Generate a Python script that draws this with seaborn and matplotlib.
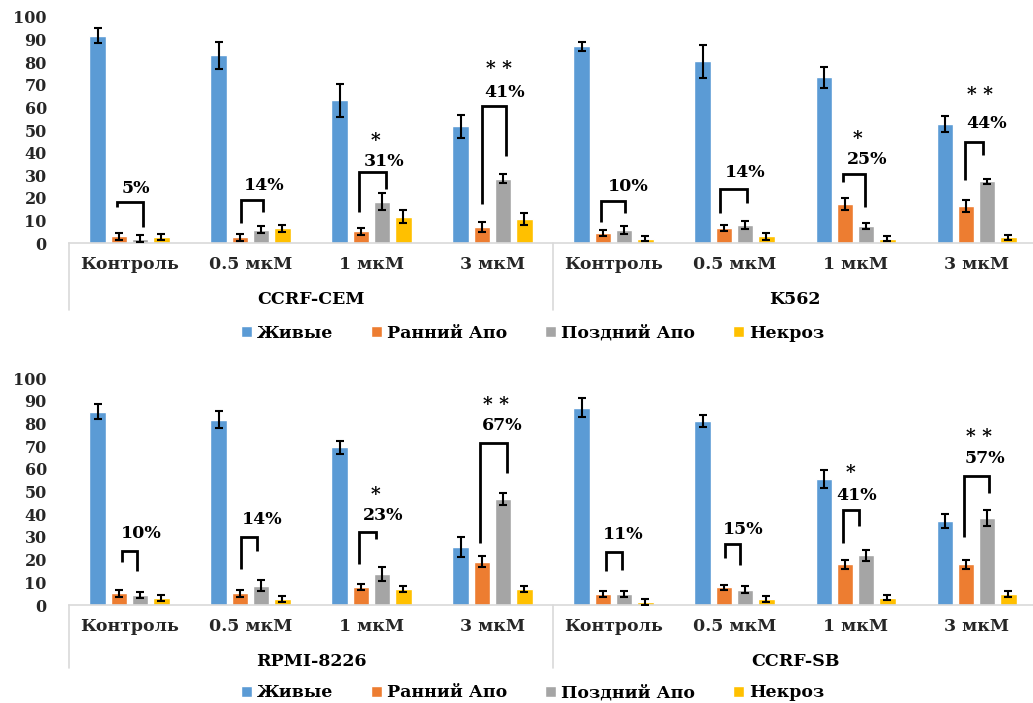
import matplotlib
matplotlib.use("Agg")
import matplotlib.pyplot as plt
import matplotlib.transforms as mtransforms
from matplotlib.lines import Line2D
import pandas as pd
import seaborn as sns

# ---------------------------------------------------------------- data
doses = ["Контроль", "0.5 мкМ", "1 мкМ", "3 мкМ"]
statuses = ["Живые", "Ранний Апо", "Поздний Апо", "Некроз"]
colors = ["#5B9BD5", "#ED7D31", "#A5A5A5", "#FFC000"]

lines_top = ["CCRF-CEM", "K562"]
lines_bottom = ["RPMI-8226", "CCRF-SB"]

# mean share of cells (%) per dose, and its error
cem_live = [91.6, 83.0, 63.1, 51.6]
cem_live_err = [3.3, 5.9, 7.4, 5.2]
cem_early = [3.1, 2.7, 5.3, 7.1]
cem_early_err = [1.5, 1.5, 1.5, 2.3]
cem_late = [2.0, 6.0, 18.4, 28.6]
cem_late_err = [1.5, 1.5, 3.6, 1.8]
cem_necro = [2.8, 6.6, 11.8, 10.9]
cem_necro_err = [1.3, 1.5, 3.0, 2.6]

k562_live = [86.9, 80.3, 73.2, 52.8]
k562_live_err = [2.1, 7.4, 4.6, 3.5]
k562_early = [4.4, 6.8, 17.2, 16.5]
k562_early_err = [1.3, 1.5, 2.6, 2.6]
k562_late = [5.9, 7.9, 7.6, 27.4]
k562_late_err = [1.8, 1.8, 1.3, 1.2]
k562_necro = [2.1, 3.1, 2.1, 2.6]
k562_necro_err = [1.3, 1.5, 1.3, 1.2]

rpmi_live = [85.3, 81.8, 69.6, 25.7]
rpmi_live_err = [3.2, 3.7, 2.9, 4.4]
rpmi_early = [5.1, 5.1, 7.9, 19.1]
rpmi_early_err = [1.5, 1.5, 1.3, 2.4]
rpmi_late = [4.6, 8.5, 13.7, 46.8]
rpmi_late_err = [1.3, 2.4, 3.2, 2.6]
rpmi_necro = [3.1, 2.8, 7.1, 7.1]
rpmi_necro_err = [1.3, 1.3, 1.3, 1.3]

sb_live = [87.1, 81.2, 55.6, 37.1]
sb_live_err = [4.3, 2.6, 3.9, 3.2]
sb_early = [4.9, 7.8, 17.9, 17.9]
sb_early_err = [1.3, 1.2, 2.1, 2.1]
sb_late = [4.9, 6.8, 21.9, 38.4]
sb_late_err = [1.3, 1.5, 2.3, 3.4]
sb_necro = [1.3, 2.5, 3.2, 4.9]
sb_necro_err = [1.5, 1.3, 1.2, 1.3]

# apoptosis totals printed over the brackets, and significance marks
pct_labels_top = ["5%", "14%", "31%", "41%", "10%", "14%", "25%", "44%"]
pct_labels_bottom = ["10%", "14%", "23%", "67%", "11%", "15%", "41%", "57%"]
stars_top = ["", "", "*", "* *", "", "", "*", "* *"]
stars_bottom = ["", "", "*", "* *", "", "", "*", "* *"]

means = {
    "CCRF-CEM": [cem_live, cem_early, cem_late, cem_necro],
    "K562": [k562_live, k562_early, k562_late, k562_necro],
    "RPMI-8226": [rpmi_live, rpmi_early, rpmi_late, rpmi_necro],
    "CCRF-SB": [sb_live, sb_early, sb_late, sb_necro],
}
errors = {
    "CCRF-CEM": [cem_live_err, cem_early_err, cem_late_err, cem_necro_err],
    "K562": [k562_live_err, k562_early_err, k562_late_err, k562_necro_err],
    "RPMI-8226": [rpmi_live_err, rpmi_early_err, rpmi_late_err, rpmi_necro_err],
    "CCRF-SB": [sb_live_err, sb_early_err, sb_late_err, sb_necro_err],
}

# bracket geometry: left/right leg offset from the category centre,
# top, left-leg bottom, right-leg bottom, label x-offset, label y,
# star x-offset, star y
brackets_top = [
    (-0.100, 0.110, 18.3, 16.1, 7.3, 0.054, 24.2, 0.0, 0.0),
    (-0.075, 0.105, 19.3, 8.8, 13.7, 0.110, 25.5, 0.0, 0.0),
    (-0.107, 0.120, 31.4, 13.7, 24.0, 0.100, 36.1, 0.030, 44.7),
    (-0.084, 0.110, 60.5, 17.3, 38.6, 0.100, 66.5, 0.054, 76.3),
    (-0.103, 0.095, 18.7, 9.6, 13.2, 0.120, 25.0, 0.0, 0.0),
    (-0.120, 0.100, 23.8, 13.2, 17.6, 0.087, 31.2, 0.0, 0.0),
    (-0.100, 0.078, 30.6, 27.2, 16.2, 0.095, 36.8, 0.020, 45.6),
    (-0.095, 0.054, 44.9, 27.9, 39.0, 0.087, 52.9, 0.030, 65.0),
]
brackets_bottom = [
    (-0.064, 0.064, 24.0, 18.8, 15.1, 0.100, 31.6, 0.0, 0.0),
    (-0.075, 0.052, 30.1, 15.7, 24.0, 0.095, 37.9, 0.0, 0.0),
    (-0.107, 0.038, 32.1, 17.9, 29.0, 0.095, 39.4, 0.030, 47.8),
    (-0.103, 0.117, 71.3, 27.5, 58.4, 0.080, 79.0, 0.025, 87.5),
    (-0.062, 0.070, 23.5, 15.1, 15.4, 0.083, 31.3, 0.0, 0.0),
    (-0.079, 0.045, 26.8, 20.6, 17.6, 0.074, 33.1, 0.0, 0.0),
    (-0.103, 0.029, 41.9, 27.5, 34.9, 0.012, 48.2, -0.045, 57.4),
    (-0.103, 0.106, 57.1, 30.1, 49.3, 0.070, 64.4, 0.017, 73.5),
]

# ---------------------------------------------------------------- style
sns.set_style("white")
plt.rcParams["font.family"] = ["DejaVu Serif"]
plt.rcParams["font.weight"] = "bold"
plt.rcParams["text.color"] = "black"

AXIS_GREY = "#D9D9D9"
LEGEND_FONT = {"family": "DejaVu Serif", "weight": "bold", "size": 12.5}


def draw_panel(ax, cell_lines, pct_labels, stars, brackets, legend_y,
               sep_depth, group_y):
    rows = []
    for line in cell_lines:
        for k, st in enumerate(statuses):
            for d, dose in enumerate(doses):
                rows.append({"cat": f"{line}\n{dose}", "status": st,
                             "value": means[line][k][d]})
    df = pd.DataFrame(rows)
    order = [f"{line}\n{dose}" for line in cell_lines for dose in doses]

    sns.barplot(data=df, x="cat", y="value", hue="status", order=order,
                hue_order=statuses, palette=colors, saturation=1,
                width=0.7, gap=0.22, errorbar=None, legend=True, ax=ax,
                zorder=2)

    # error bars on top of every bar
    bar_groups = list(ax.containers)
    for k, cont in enumerate(bar_groups):
        xs, hs, es = [], [], []
        for j, bar in enumerate(cont.patches):
            line = cell_lines[j // 4]
            xs.append(bar.get_x() + bar.get_width() / 2)
            hs.append(bar.get_height())
            es.append(errors[line][k][j % 4])
        ax.errorbar(xs, hs, yerr=es, fmt="none", ecolor="black",
                    elinewidth=1.5, capsize=2.8, capthick=1.5, zorder=3)

    # apoptosis brackets with labels
    for i, (dl, dr, top, lb, rb, tdx, ty, sdx, sy) in enumerate(brackets):
        xl, xr = i + dl, i + dr
        ax.add_line(Line2D([xl, xl, xr, xr], [lb, top, top, rb],
                           color="black", lw=2.0, solid_joinstyle="miter",
                           solid_capstyle="butt", zorder=4))
        ax.text(i + tdx, ty, pct_labels[i], ha="center", va="center",
                fontsize=12.5, zorder=5)
        if stars[i]:
            ax.annotate(stars[i], (i + sdx, sy), xytext=(0, 1),
                        textcoords="offset points", ha="center",
                        va="center", fontsize=13.5, zorder=5)

    ax.set_xlim(-0.5, 7.5)
    ax.set_ylim(0, 100)
    ax.set_yticks(range(0, 101, 10))
    ax.set_xticks(range(8))
    ax.set_xticklabels(doses * 2)
    ax.set_xlabel("")
    ax.set_ylabel("")
    ax.tick_params(axis="y", length=0, pad=16, labelsize=11.5)
    ax.tick_params(axis="x", length=0, pad=9, labelsize=12.5)
    for side in ("left", "top", "right"):
        ax.spines[side].set_visible(False)
    ax.spines["bottom"].set_color(AXIS_GREY)
    ax.spines["bottom"].set_linewidth(1.2)

    # multi-level category axis: separators and cell-line names
    trans = mtransforms.blended_transform_factory(ax.transData, ax.transAxes)
    for xsep in (-0.5, 3.5, 7.5):
        ax.add_line(Line2D([xsep, xsep], [0, -sep_depth], transform=trans,
                           color=AXIS_GREY, lw=1.2, clip_on=False))
    for g, line in enumerate(cell_lines):
        ax.text(1.5 + 4 * g, group_y, line, transform=trans, ha="center",
                va="center", fontsize=12.5)

    sns.move_legend(ax, "center", bbox_to_anchor=(0.479, legend_y), ncol=4,
                    frameon=False, title=None, handlelength=0.6,
                    handleheight=0.6, handletextpad=0.3, columnspacing=2.2,
                    prop=LEGEND_FONT)
    for txt in ax.get_legend().get_texts():
        txt.set_fontfamily("DejaVu Serif")
        txt.set_fontweight("bold")
        txt.set_fontsize(12.5)


fig = plt.figure(figsize=(10.33, 7.03), dpi=100)
ax_top = fig.add_axes([0.0668, 0.6539, 0.9371, 0.3223])
ax_bot = fig.add_axes([0.0668, 0.1394, 0.9371, 0.3225])

draw_panel(ax_top, lines_top, pct_labels_top, stars_top, brackets_top,
           legend_y=-0.396, sep_depth=0.294, group_y=-0.246)
draw_panel(ax_bot, lines_bottom, pct_labels_bottom, stars_bottom,
           brackets_bottom, legend_y=-0.388, sep_depth=0.278, group_y=-0.247)

fig.savefig("out.png", dpi=100, facecolor="white")
